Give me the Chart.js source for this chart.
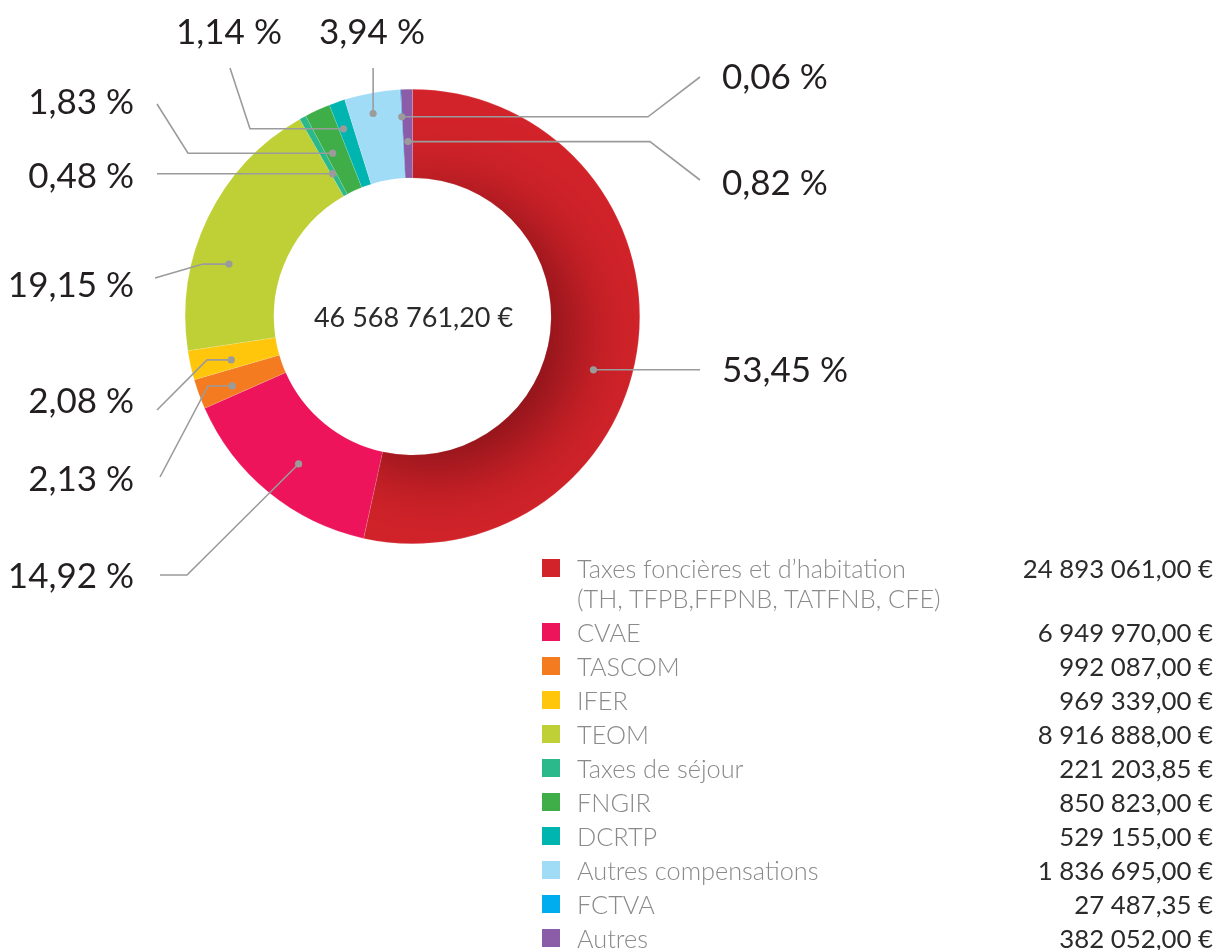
<!DOCTYPE html>
<html lang="fr">
<head>
<meta charset="utf-8">
<script src="https://cdn.jsdelivr.net/npm/chart.js@4.4.1/dist/chart.umd.min.js"></script>
<style>
  html, body { margin: 0; padding: 0; background: #fff; }
  #wrap { position: relative; width: 1217px; height: 950px; overflow: hidden; }
  #c { position: absolute; left: 0; top: 0; }
  #legend { position: absolute; left: 542px; top: 553px; width: 671px; font-family: Lato, "Open Sans", sans-serif; }
  .row { display: flex; align-items: flex-start; margin-bottom: 4px; line-height: 30px; }
  .sw { width: 18px; height: 18px; margin-top: 6px; flex: 0 0 18px; }
  .lab { margin-left: 17px; color: #8a8a8a; font-weight: 300; font-size: 25.3px; flex: 1 1 auto; white-space: nowrap; }
  .val { color: #2b2b2b; font-weight: 400; font-size: 25.8px; text-align: right; white-space: nowrap; }
</style>
</head>
<body>
<div id="wrap">
  <canvas id="c" width="1217" height="950"></canvas>
  <div id="legend"></div>
</div>
<script>
// ---- data ----
const categories = [
  "Taxes foncières et d’habitation\n(TH, TFPB,FFPNB, TATFNB, CFE)",
  "CVAE", "TASCOM", "IFER", "TEOM", "Taxes de séjour",
  "FNGIR", "DCRTP", "Autres compensations", "FCTVA", "Autres"
];
const amounts = [24893061.00, 6949970.00, 992087.00, 969339.00, 8916888.00, 221203.85,
                 850823.00, 529155.00, 1836695.00, 27487.35, 382052.00];
const amountLabels = ["24 893 061,00 €", "6 949 970,00 €", "992 087,00 €", "969 339,00 €",
  "8 916 888,00 €", "221 203,85 €", "850 823,00 €", "529 155,00 €", "1 836 695,00 €",
  "27 487,35 €", "382 052,00 €"];
const percentLabels = ["53,45 %", "14,92 %", "2,13 %", "2,08 %", "19,15 %", "0,48 %",
  "1,83 %", "1,14 %", "3,94 %", "0,06 %", "0,82 %"];
const totalLabel = "46 568 761,20 €";
const colors = ["#d2232a", "#ed145b", "#f47b20", "#ffc60b", "#bfd036", "#2bb88a",
  "#3fae49", "#00b5b0", "#a1dcf7", "#00aeef", "#8b5ca8"];

// ---- label layout (style only) ----
// t: fraction along segment angle, rf: fraction of outer radius for the dot
const labelLayout = [
  { t: 0.553, rf: 0.83, path: [["h", 700]], tx: 722, ty: 371, align: "left" },
  { t: 0.47, rf: 0.82, path: [["p", 187, 575], ["h", 160]], tx: 134, ty: 577, align: "right" },
  { t: 0.36, rf: 0.85, path: [["h", 208], ["p", 160, 477]], tx: 134, ty: 480, align: "right" },
  { t: 0.36, rf: 0.82, path: [["h", 207], ["p", 157, 410]], tx: 134, ty: 402, align: "right" },
  { t: 0.357, rf: 0.84, path: [["h", 203], ["p", 155, 278]], tx: 134, ty: 286, align: "right" },
  { t: 0.3, rf: 0.72, path: [["h", 157]], tx: 134, ty: 177, align: "right" },
  { t: 0.3, rf: 0.80, path: [["h", 188], ["p", 157, 104]], tx: 134, ty: 103, align: "right" },
  { t: 0.31, rf: 0.88, path: [["h", 250], ["p", 230, 68]], tx: 229, ty: 33, align: "center" },
  { t: 0.45, rf: 0.91, path: [["v", 68]], tx: 372, ty: 33, align: "center" },
  { t: 0.5, rf: 0.88, path: [["h", 648], ["p", 700, 77]], tx: 722, ty: 78, align: "left" },
  { t: 0.5, rf: 0.77, path: [["h", 650], ["p", 700, 180]], tx: 722, ty: 184, align: "left" }
];

// ---- legend (HTML) ----
const legendEl = document.getElementById("legend");
categories.forEach((name, i) => {
  const row = document.createElement("div");
  row.className = "row";
  const sw = document.createElement("div");
  sw.className = "sw"; sw.style.background = colors[i];
  const lab = document.createElement("div");
  lab.className = "lab";
  lab.innerHTML = name.split("\n").map(s => s.replace(/&/g, "&amp;").replace(/</g, "&lt;")).join("<br>");
  const val = document.createElement("div");
  val.className = "val"; val.textContent = amountLabels[i];
  row.appendChild(sw); row.appendChild(lab); row.appendChild(val);
  legendEl.appendChild(row);
});

// ---- plugins ----
const shadePlugin = {
  id: "shade",
  afterDatasetsDraw(chart) {
    const arc = chart.getDatasetMeta(0).data[0];
    if (!arc) return;
    const p = arc.getProps(["x", "y", "startAngle", "endAngle", "innerRadius", "outerRadius"], true);
    const ctx = chart.ctx;
    ctx.save();
    ctx.beginPath();
    ctx.arc(p.x, p.y, p.outerRadius, p.startAngle, p.endAngle);
    ctx.arc(p.x, p.y, p.innerRadius, p.endAngle, p.startAngle, true);
    ctx.closePath();
    ctx.clip();
    ctx.shadowColor = "rgba(50,0,5,0.5)";
    ctx.shadowBlur = 70;
    ctx.shadowOffsetX = 24;
    ctx.shadowOffsetY = 16;
    ctx.fillStyle = colors[0];
    ctx.beginPath();
    ctx.arc(p.x, p.y, p.innerRadius - 1, 0, Math.PI * 2);
    ctx.fill();
    ctx.restore();
  }
};

const labelPlugin = {
  id: "labels",
  afterDraw(chart) {
    const ctx = chart.ctx;
    const arcs = chart.getDatasetMeta(0).data;
    ctx.save();
    // center total
    const a0 = arcs[0].getProps(["x", "y"], true);
    ctx.fillStyle = "#2b2b2b";
    ctx.font = "400 27px Lato, 'Open Sans', sans-serif";
    ctx.textAlign = "center";
    ctx.textBaseline = "middle";
    ctx.fillText(totalLabel, a0.x + 1, a0.y + 2);

    arcs.forEach((arc, i) => {
      const L = labelLayout[i];
      const p = arc.getProps(["x", "y", "startAngle", "endAngle", "outerRadius"], true);
      const ang = p.startAngle + L.t * (p.endAngle - p.startAngle);
      const r = L.rf * p.outerRadius;
      const dx = p.x + r * Math.cos(ang), dy = p.y + r * Math.sin(ang);
      ctx.strokeStyle = "#9b9b9b";
      ctx.lineWidth = 1.6;
      ctx.beginPath();
      ctx.moveTo(dx, dy);
      let cx = dx, cy = dy;
      L.path.forEach(s => {
        if (s[0] === "h") { cx = s[1]; }
        else if (s[0] === "v") { cy = s[1]; }
        else { cx = s[1]; cy = s[2]; }
        ctx.lineTo(cx, cy);
      });
      ctx.stroke();
      ctx.fillStyle = "#9b9b9b";
      ctx.beginPath();
      ctx.arc(dx, dy, 3.6, 0, Math.PI * 2);
      ctx.fill();
      ctx.fillStyle = "#231f20";
      ctx.font = "400 35px Lato, 'Open Sans', sans-serif";
      ctx.textAlign = L.align;
      ctx.textBaseline = "middle";
      ctx.fillText(percentLabels[i], L.tx, L.ty);
    });
    ctx.restore();
  }
};

new Chart(document.getElementById("c"), {
  type: "doughnut",
  data: {
    labels: categories,
    datasets: [{
      data: amounts,
      backgroundColor: colors,
      borderColor: "rgba(255,255,255,0.25)",
      borderWidth: 0.5,
      hoverOffset: 0
    }]
  },
  options: {
    responsive: false,
    animation: false,
    devicePixelRatio: 1,
    cutout: "61%",
    rotation: 0,
    layout: { padding: { left: 185, top: 89, right: 577, bottom: 406 } },
    plugins: { legend: { display: false }, tooltip: { enabled: false } }
  },
  plugins: [shadePlugin, labelPlugin]
});
</script>
</body>
</html>
